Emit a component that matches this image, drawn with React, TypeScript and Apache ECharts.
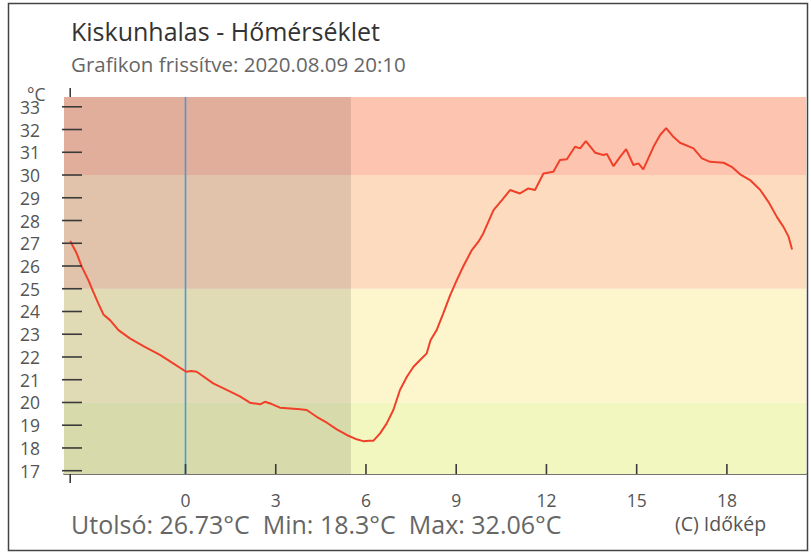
import React, { useEffect, useRef } from "react";
import * as echarts from "echarts";

// Time in hours relative to midnight (negative = previous evening)
const hours = [
  -3.833, -3.62, -3.45, -3.23, -3.07, -2.9, -2.73, -2.51, -2.23, -1.85, -1.4, -0.85, -0.41,
  0.02, 0.2, 0.37, 0.48, 0.92, 1.37, 1.81, 2.14, 2.48, 2.64, 2.87, 3.14, 3.48, 3.81, 4.03,
  4.36, 4.7, 5.03, 5.36, 5.69, 5.91, 6.1, 6.25, 6.47, 6.69, 6.91, 7.13, 7.36, 7.58, 7.8,
  8.02, 8.15, 8.35, 8.57, 8.8, 9.02, 9.24, 9.52, 9.74, 9.9, 10.24, 10.52, 10.79, 11.12,
  11.4, 11.62, 11.9, 12.23, 12.45, 12.68, 12.95, 13.12, 13.31, 13.62, 13.89, 14.01, 14.23,
  14.45, 14.65, 14.89, 15.06, 15.22, 15.56, 15.78, 15.98, 16.22, 16.44, 16.89, 17.17,
  17.44, 17.89, 18.16, 18.44, 18.77, 19.11, 19.38, 19.66, 19.88, 20.05, 20.167,
];
const temps = [
  27.1, 26.56, 25.97, 25.38, 24.87, 24.36, 23.87, 23.62, 23.18, 22.82, 22.48, 22.09, 21.72,
  21.35, 21.38, 21.35, 21.25, 20.84, 20.55, 20.27, 19.99, 19.92, 20.03, 19.93, 19.77, 19.74,
  19.7, 19.67, 19.37, 19.11, 18.82, 18.57, 18.38, 18.3, 18.32, 18.32, 18.64, 19.08, 19.67,
  20.55, 21.13, 21.57, 21.87, 22.16, 22.75, 23.18, 23.92, 24.72, 25.38, 26.0, 26.7, 27.07,
  27.43, 28.46, 28.9, 29.34, 29.19, 29.41, 29.34, 30.07, 30.14, 30.66, 30.69, 31.24, 31.17,
  31.49, 30.98, 30.88, 30.92, 30.39, 30.8, 31.14, 30.44, 30.51, 30.25, 31.24, 31.76, 32.06,
  31.68, 31.42, 31.17, 30.73, 30.58, 30.54, 30.36, 30.03, 29.78, 29.34, 28.82, 28.16, 27.72,
  27.29, 26.73,
];

const xTicks = [0, 3, 6, 9, 12, 15, 18];
const yTicks = [17, 18, 19, 20, 21, 22, 23, 24, 25, 26, 27, 28, 29, 30, 31, 32, 33];
const bandEdges = [16.855, 20, 25, 30, 33.43];
const bandColors = ["#f2f7c0", "#fdf6cc", "#fcdbbf", "#fdc4b0"];
const sunrise = 5.5;
const midnight = 0;
const firstTime = hours[0];

const titleText = "Kiskunhalas - Hőmérséklet";
const subtitleText = "Grafikon frissítve: 2020.08.09 20:10";
const statsText = "Utolsó: 26.73°C  Min: 18.3°C  Max: 32.06°C";
const creditText = "(C) Időkép";
const unitText = "°C";

const X_MIN = -4.04;
const X_MAX = 20.63;
const Y_MIN = bandEdges[0];
const Y_MAX = bandEdges[bandEdges.length - 1];
const FONT = "'Open Sans', 'Noto Sans', sans-serif";
const TICK_COLOR = "#3a3a3a";

export default function App() {
  const ref = useRef<HTMLDivElement>(null);
  useEffect(() => {
    if (!ref.current) return;
    const chart = echarts.init(ref.current, null, { renderer: "svg" });
    const data = hours.map((h, i) => [h, temps[i]]);
    const bandData = bandColors.map((_, i) => [bandEdges[i], bandEdges[i + 1], i]);

    chart.setOption({
      animation: false,
      textStyle: { fontFamily: FONT },
      grid: { left: 64, right: 5, top: 97, bottom: 80 },
      xAxis: {
        type: "value",
        min: X_MIN,
        max: X_MAX,
        axisLine: { show: true, onZero: false, lineStyle: { color: "#444", width: 1.5 } },
        axisTick: { show: false },
        axisLabel: {
          show: true,
          customValues: xTicks,
          fontSize: 17.5,
          lineHeight: 15,
          color: "#555",
          margin: 18,
          fontFamily: FONT,
        },
        splitLine: { show: false },
      },
      yAxis: {
        type: "value",
        min: Y_MIN,
        max: Y_MAX,
        offset: 2,
        axisLine: { show: false, onZero: false },
        axisTick: { show: false },
        axisLabel: {
          show: true,
          customValues: yTicks,
          fontSize: 17.5,
          lineHeight: 14,
          color: "#555",
          margin: 22,
          fontFamily: FONT,
        },
        splitLine: { show: false },
      },
      series: [
        {
          type: "custom",
          z: 1,
          silent: true,
          clip: false,
          data: bandData,
          encode: { x: -1, y: [0, 1] },
          renderItem: (_p: any, api: any) => {
            const a = api.coord([X_MIN, api.value(1)]);
            const b = api.coord([X_MAX, api.value(0)]);
            return {
              type: "rect",
              shape: { x: a[0], y: a[1], width: b[0] - a[0], height: b[1] - a[1] },
              style: { fill: bandColors[api.value(2)] },
            };
          },
        },
        {
          type: "custom",
          z: 2,
          silent: true,
          clip: false,
          data: [[X_MIN, sunrise]],
          encode: { x: [0, 1], y: -1 },
          renderItem: (_p: any, api: any) => {
            const a = api.coord([api.value(0), Y_MAX]);
            const b = api.coord([api.value(1), Y_MIN]);
            return {
              type: "rect",
              shape: { x: a[0], y: a[1], width: b[0] - a[0], height: b[1] - a[1] },
              style: { fill: "rgba(0,0,0,0.11)" },
            };
          },
        },
        {
          type: "line",
          data: [
            [midnight, Y_MIN],
            [midnight, Y_MAX],
          ],
          z: 3,
          silent: true,
          showSymbol: false,
          symbol: "none",
          lineStyle: { color: "#4a9ad8", width: 1.6 },
        },
        {
          type: "line",
          data,
          showSymbol: false,
          symbol: "none",
          lineStyle: { color: "#f0402a", width: 2 },
          z: 5,
        },
      ],
    });

    // Tick marks placed through the chart's own scales
    const px = (x: number, y: number) => chart.convertToPixel({ gridIndex: 0 }, [x, y]) as number[];
    const tickStyle = { stroke: TICK_COLOR, lineWidth: 1.6 };
    const ticks: any[] = [];
    yTicks.forEach((v) => {
      const p = px(X_MIN, v);
      ticks.push({ type: "line", z: 100, silent: true, shape: { x1: p[0] - 2, y1: p[1], x2: p[0] + 18, y2: p[1] }, style: tickStyle });
    });
    xTicks.forEach((v) => {
      const p = px(v, Y_MIN);
      ticks.push({ type: "line", z: 100, silent: true, shape: { x1: p[0], y1: p[1], x2: p[0], y2: p[1] - 10 }, style: tickStyle });
    });
    const pb = px(firstTime, Y_MIN);
    const pt = px(firstTime, Y_MAX);
    ticks.push({ type: "line", z: 100, silent: true, shape: { x1: pb[0], y1: pb[1], x2: pb[0], y2: pb[1] + 9 }, style: tickStyle });
    ticks.push({ type: "line", z: 100, silent: true, shape: { x1: pt[0], y1: pt[1], x2: pt[0], y2: pt[1] - 9 }, style: tickStyle });

    chart.setOption({
      graphic: [
        {
          type: "rect",
          z: 100,
          shape: { x: 8.5, y: 3.5, width: 799, height: 547 },
          style: { fill: "none", stroke: "#444", lineWidth: 1.5 },
          silent: true,
        },
        ...ticks,
        {
          type: "text",
          x: 71,
          y: 31,
          style: { text: titleText, fontSize: 25, lineHeight: 22, fontFamily: FONT, fill: "#333", verticalAlign: "middle", align: "left" },
        },
        {
          type: "text",
          x: 71,
          y: 64,
          style: { text: subtitleText, fontSize: 20.5, lineHeight: 18, fontFamily: FONT, fill: "#666", verticalAlign: "middle", align: "left" },
        },
        {
          type: "text",
          x: 27,
          y: 94,
          style: { text: unitText, fontSize: 17.5, lineHeight: 13, fontFamily: FONT, fill: "#555", verticalAlign: "middle", align: "left" },
        },
        {
          type: "text",
          x: 71,
          y: 524,
          style: { text: statsText, fontSize: 25, lineHeight: 20, fontFamily: FONT, fill: "#666", verticalAlign: "middle", align: "left" },
        },
        {
          type: "text",
          x: 675,
          y: 523,
          style: { text: creditText, fontSize: 19.5, lineHeight: 16, fontFamily: FONT, fill: "#555", verticalAlign: "middle", align: "left" },
        },
      ],
    });
    return () => chart.dispose();
  }, []);
  return (
    <div
      ref={ref}
      style={{ position: "fixed", left: 0, top: 0, width: 811, height: 554, background: "#fff" }}
    />
  );
}
